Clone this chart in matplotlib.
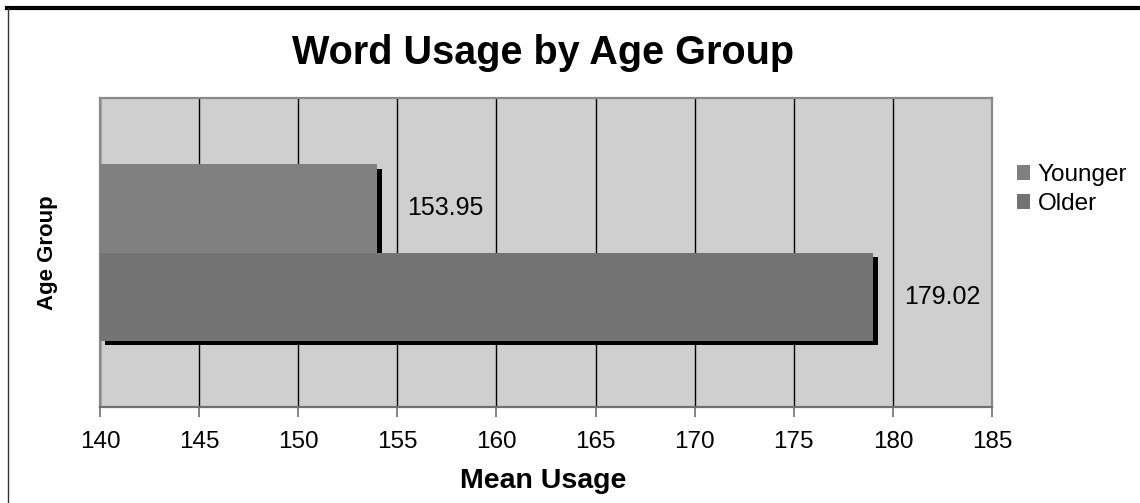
import matplotlib
matplotlib.use("Agg")
import matplotlib.pyplot as plt
import matplotlib.patheffects as pe
from matplotlib.lines import Line2D

plt.rcParams['font.family'] = ['Liberation Sans', 'DejaVu Sans']

# Data
series = ["Younger", "Older"]
values = [153.95, 179.02]
colors = ["#808080", "#737373"]
xticks = [140, 145, 150, 155, 160, 165, 170, 175, 180, 185]

W, H = 1140, 503
fig = plt.figure(figsize=(W / 100, H / 100), dpi=100)
ax = fig.add_axes([100 / W, 1 - 407 / H, 892 / W, 309 / H])

ax.set_facecolor("#cfcfcf")
ax.set_xlim(140, 185)
ax.set_ylim(-0.5, 0.5)

bar_h = 0.285
offsets = [bar_h / 2, -bar_h / 2]
shadow = [pe.SimplePatchShadow(offset=(3.6, -3.0), shadow_rgbFace="black", alpha=1.0),
          pe.Normal()]
for name, val, col, off in zip(series, values, colors, offsets):
    bars = ax.barh(off, val - 140, left=140, height=bar_h, color=col,
                   label=name, zorder=3)
    for b in bars:
        b.set_path_effects(shadow)
    ax.annotate(f"{val:.2f}", xy=(val, off), xytext=(22, 0),
                textcoords="offset points", va="center", ha="left",
                fontsize=18, color="black", zorder=4)

# Gridlines and axes styling
ax.set_xticks(xticks)
ax.set_xticklabels([str(t) for t in xticks], fontsize=17.5)
ax.grid(axis="x", color="black", linewidth=1.0, zorder=1)
ax.set_axisbelow(True)
ax.set_yticks([])
ax.tick_params(axis="x", direction="out", length=7, width=1.2,
               color="#707070", pad=10)
for s in ax.spines.values():
    s.set_color("#8a8a8a")
    s.set_linewidth(1.6)
ax.spines["bottom"].set_color("#707070")

ax.set_xlabel("Mean Usage", fontsize=20.5, fontweight="bold", va="center")
ax.xaxis.set_label_coords((543 - 100) / 892, (407 - 481) / 309)
ax.set_ylabel("Age Group", fontsize=16, fontweight="bold", va="center")
ax.yaxis.set_label_coords((48 - 100) / 892, 0.5)
fig.text(543 / W, 1 - 53 / H, "Word Usage by Age Group", fontsize=28.5,
         fontweight="bold", ha="center", va="center")

leg = fig.legend(loc="upper left", bbox_to_anchor=(1017 / W, 1 - 164 / H),
                 frameon=False, fontsize=17.5, handlelength=0.55,
                 handleheight=0.55, handletextpad=0.3, labelspacing=0.3,
                 borderaxespad=0, borderpad=0)
for h in leg.legend_handles:
    h.set_path_effects([])

# Outer frame lines
fig.add_artist(Line2D([7 / W, 1], [1 - 8 / H, 1 - 8 / H],
                      transform=fig.transFigure, color="black", linewidth=3))
fig.add_artist(Line2D([8 / W, 8 / W], [0, 1 - 8 / H],
                      transform=fig.transFigure, color="#333333", linewidth=1))

fig.savefig("out.png", dpi=100)
